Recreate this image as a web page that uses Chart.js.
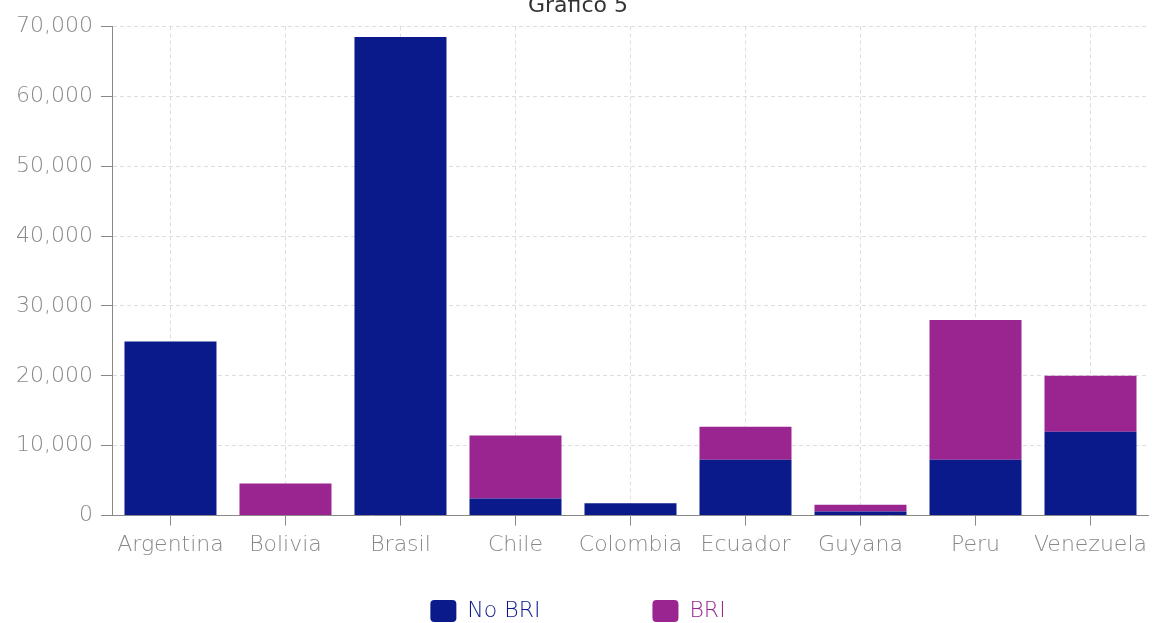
<!DOCTYPE html>
<html>
<head>
<meta charset="utf-8">
<title>Grafico 5</title>
<script src="https://cdn.jsdelivr.net/npm/chart.js@4.4.1/dist/chart.umd.min.js"></script>
<style>
  html, body { margin: 0; padding: 0; background: #fff; overflow: hidden; }
  #wrap { position: relative; width: 1156px; height: 623px; }
</style>
</head>
<body>
<div id="wrap"><canvas id="canvas"></canvas></div>
<script>
const countries = ['Argentina','Bolivia','Brasil','Chile','Colombia','Ecuador','Guyana','Peru','Venezuela'];
const noBri = [24900, 0, 68500, 2450, 1750, 8000, 600, 8000, 12000];
const bri = [0, 4600, 0, 9000, 0, 4700, 950, 20000, 8000];
const yTicks = [0, 10000, 20000, 30000, 40000, 50000, 60000, 70000];

const navy = '#0a1a8a';
const purple = '#9a2490';
const font = "'DejaVu Sans', sans-serif";
const legendPad = 112;

// legend items sit far apart, so the row is pulled back up before drawing
const legendRow = {
    id: 'legendRow',
    beforeDraw(chart) {
        chart.legend._top0 = chart.legend.top;
        chart.legend.top -= legendPad - 36;
    },
    afterDraw(chart) {
        chart.legend.top = chart.legend._top0;
    }
};

Chart.defaults.font.family = font;
Chart.defaults.font.size = 22;
Chart.defaults.font.weight = 300;
Chart.defaults.color = '#888';

const data = {
    labels: countries,
    datasets: [
        {
            label: 'No BRI',
            data: noBri,
            backgroundColor: navy,
            borderWidth: 0,
            categoryPercentage: 1,
            barPercentage: 0.8
        },
        {
            label: 'BRI',
            data: bri,
            backgroundColor: purple,
            borderWidth: 0,
            categoryPercentage: 1,
            barPercentage: 0.8
        }
    ]
};

const config = {
    type: 'bar',
    data: data,
    plugins: [legendRow],
    options: {
        responsive: true,
        maintainAspectRatio: false,
        animation: false,
        layout: { padding: { left: 8, right: 8, top: 0, bottom: 0 } },
        scales: {
            x: {
                stacked: true,
                grid: {
                    offset: false,
                    color: '#dedede',
                    tickColor: '#888',
                    tickLength: 10,
                    tickBorderDash: []
                },
                border: { color: '#888', dash: [4, 3] },
                ticks: { padding: 6, maxRotation: 0, minRotation: 0, autoSkip: false }
            },
            y: {
                stacked: true,
                min: 0,
                max: 70000,
                afterBuildTicks(scale) {
                    scale.ticks = yTicks.map(v => ({ value: v }));
                },
                grid: {
                    color: '#dedede',
                    tickColor: '#888',
                    tickLength: 12,
                    tickBorderDash: []
                },
                border: { color: '#888', dash: [4, 3] },
                ticks: {
                    padding: 8,
                    callback: v => v.toLocaleString('en-US')
                }
            }
        },
        plugins: {
            title: {
                display: true,
                text: 'Grafico 5',
                color: '#333',
                font: { size: 22, weight: 'normal' },
                padding: { top: -7, bottom: 7 }
            },
            legend: {
                position: 'bottom',
                maxHeight: 59,
                labels: {
                    boxWidth: 26,
                    boxHeight: 22,
                    useBorderRadius: true,
                    borderRadius: 4,
                    padding: legendPad,
                    generateLabels(chart) {
                        const items = Chart.defaults.plugins.legend.labels.generateLabels(chart);
                        items.forEach(it => {
                            it.fontColor = chart.data.datasets[it.datasetIndex].backgroundColor;
                            it.lineWidth = 0;
                        });
                        return items;
                    }
                }
            },
            tooltip: { enabled: false }
        }
    }
};

const canvas = document.getElementById('canvas');
const chart = new Chart(canvas, config);
</script>
</body>
</html>
